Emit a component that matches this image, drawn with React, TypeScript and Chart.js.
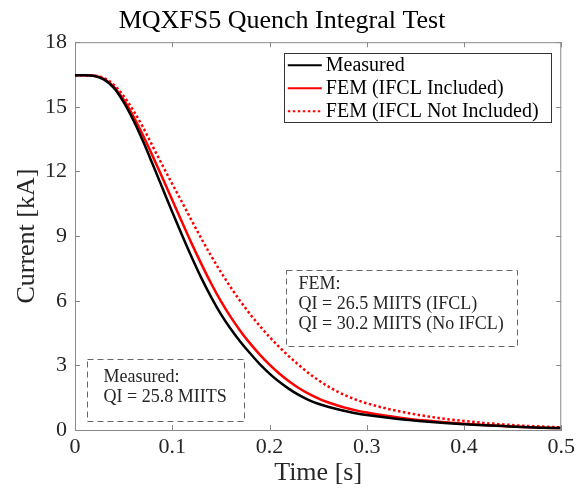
import React, { useEffect, useRef } from "react";
import { Chart, registerables } from "chart.js";

Chart.register(...registerables);

const times = [
  0, 0.01, 0.02, 0.03, 0.04, 0.05, 0.06, 0.07, 0.08, 0.09, 0.1, 0.11, 0.12, 0.13, 0.14, 0.15,
  0.16, 0.17, 0.18, 0.19, 0.2, 0.21, 0.22, 0.23, 0.24, 0.25, 0.26, 0.27, 0.28, 0.29, 0.3,
  0.32, 0.34, 0.36, 0.38, 0.4, 0.42, 0.44, 0.46, 0.48, 0.5,
];

const measured = [
  16.47, 16.47, 16.43, 16.26, 15.88, 15.22, 14.38, 13.4, 12.32, 11.22, 10.12, 9.05, 8.02, 7.05, 6.17, 5.38,
  4.7, 4.1, 3.56, 3.06, 2.62, 2.24, 1.91, 1.63, 1.4, 1.22, 1.08, 0.96, 0.86, 0.77, 0.7,
  0.58, 0.48, 0.4, 0.33, 0.27, 0.22, 0.18, 0.14, 0.11, 0.09,
];

const femIfcl = [
  16.47, 16.47, 16.44, 16.29, 15.93, 15.33, 14.56, 13.67, 12.7, 11.7, 10.68, 9.65, 8.65, 7.7, 6.8, 5.98,
  5.25, 4.6, 4.02, 3.5, 3.03, 2.62, 2.26, 1.95, 1.69, 1.47, 1.29, 1.14, 1.01, 0.9, 0.81,
  0.66, 0.54, 0.44, 0.36, 0.29, 0.23, 0.18, 0.14, 0.11, 0.09,
];

const femNoIfcl = [
  16.47, 16.47, 16.45, 16.33, 16.02, 15.5, 14.83, 14.05, 13.16, 12.28, 11.42, 10.58, 9.72, 8.88, 8.08, 7.33,
  6.63, 5.98, 5.38, 4.83, 4.32, 3.85, 3.42, 3.02, 2.65, 2.32, 2.03, 1.78, 1.57, 1.39, 1.24,
  1.0, 0.81, 0.65, 0.52, 0.42, 0.33, 0.26, 0.2, 0.16, 0.12,
];

const seriesLabels = ["Measured", "FEM (IFCL Included)", "FEM (IFCL Not Included)"];
const titleText = "MQXFS5 Quench Integral Test";
const xTitle = "Time [s]";
const yTitle = "Current [kA]";
const femNote = ["FEM:", "QI = 26.5 MIITS (IFCL)", "QI = 30.2 MIITS (No IFCL)"];
const measNote = ["Measured:", "QI = 25.8 MIITS"];

const FONT = "'Liberation Serif', 'Times New Roman', serif";
const AXIS_GRAY = "#8a8a8a";

const framePlugin = {
  id: "frameTicks",
  afterDatasetsDraw(chart: any) {
    const { ctx, chartArea } = chart;
    const xs = chart.scales.x;
    const ys = chart.scales.y;
    const { left, right, top, bottom } = chartArea;
    ctx.save();
    ctx.strokeStyle = AXIS_GRAY;
    ctx.lineWidth = 1;
    ctx.beginPath();
    ctx.moveTo(left, top + 0.5);
    ctx.lineTo(right, top + 0.5);
    ctx.moveTo(right - 0.5, top);
    ctx.lineTo(right - 0.5, bottom);
    ctx.stroke();
    const tl = 5;
    ctx.beginPath();
    xs.ticks.forEach((t: any) => {
      const px = Math.round(xs.getPixelForValue(t.value)) + 0.5;
      ctx.moveTo(px, bottom);
      ctx.lineTo(px, bottom - tl);
      ctx.moveTo(px, top);
      ctx.lineTo(px, top + tl);
    });
    ys.ticks.forEach((t: any) => {
      const py = Math.round(ys.getPixelForValue(t.value)) + 0.5;
      ctx.moveTo(left, py);
      ctx.lineTo(left + tl, py);
      ctx.moveTo(right, py);
      ctx.lineTo(right - tl, py);
    });
    ctx.stroke();

    // legend box (data coords)
    const lx0 = xs.getPixelForValue(0.2147);
    const lx1 = xs.getPixelForValue(0.4888);
    const ly0 = ys.getPixelForValue(17.49);
    const ly1 = ys.getPixelForValue(14.29);
    ctx.fillStyle = "#ffffff";
    ctx.fillRect(lx0, ly0, lx1 - lx0, ly1 - ly0);
    ctx.strokeStyle = "#333333";
    ctx.lineWidth = 1;
    ctx.strokeRect(Math.round(lx0) + 0.5, Math.round(ly0) + 0.5, Math.round(lx1 - lx0), Math.round(ly1 - ly0));
    const rowH = 23;
    chart.data.datasets.forEach((ds: any, i: number) => {
      const cy = ly0 + 12 + i * rowH;
      ctx.beginPath();
      ctx.strokeStyle = ds.borderColor;
      ctx.lineWidth = 2;
      ctx.setLineDash(ds.borderDash || []);
      ctx.moveTo(lx0 + 4, cy);
      ctx.lineTo(lx0 + 38, cy);
      ctx.stroke();
      ctx.setLineDash([]);
      ctx.fillStyle = "#000000";
      ctx.font = `20px ${FONT}`;
      ctx.textBaseline = "middle";
      ctx.textAlign = "left";
      ctx.fillText(ds.label, lx0 + 42, cy + 1);
    });

    const drawNote = (x0: number, x1: number, y0: number, y1: number, lines: string[], padX: number, firstY: number) => {
      const px0 = Math.round(xs.getPixelForValue(x0)) + 0.5;
      const px1 = Math.round(xs.getPixelForValue(x1)) + 0.5;
      const py0 = Math.round(ys.getPixelForValue(y0)) + 0.5;
      const py1 = Math.round(ys.getPixelForValue(y1)) + 0.5;
      ctx.strokeStyle = "#666666";
      ctx.lineWidth = 1;
      ctx.setLineDash([6, 4]);
      ctx.strokeRect(px0, py0, px1 - px0, py1 - py0);
      ctx.setLineDash([]);
      ctx.fillStyle = "#262626";
      ctx.font = `18px ${FONT}`;
      ctx.textBaseline = "middle";
      ctx.textAlign = "left";
      lines.forEach((s, i) => {
        ctx.fillText(s, px0 + padX, py0 + firstY + i * 20);
      });
    };
    drawNote(0.2168, 0.454, 7.42, 3.9, femNote, 12, 14);
    drawNote(0.0123, 0.1738, 3.29, 0.42, measNote, 16, 18);
    ctx.restore();
  },
};

export default function App() {
  const ref = useRef<HTMLCanvasElement | null>(null);
  useEffect(() => {
    if (!ref.current) return;
    const mk = (arr: number[]) => times.map((t, i) => ({ x: t, y: arr[i] }));
    const chart = new Chart(ref.current, {
      type: "line",
      data: {
        datasets: [
          {
            label: seriesLabels[0],
            data: mk(measured),
            borderColor: "#000000",
            borderWidth: 2.5,
            pointRadius: 0,
            cubicInterpolationMode: "monotone",
            fill: false,
          },
          {
            label: seriesLabels[1],
            data: mk(femIfcl),
            borderColor: "#ff0000",
            borderWidth: 2.5,
            pointRadius: 0,
            cubicInterpolationMode: "monotone",
            fill: false,
          },
          {
            label: seriesLabels[2],
            data: mk(femNoIfcl),
            borderColor: "#ff0000",
            borderWidth: 2.5,
            borderDash: [2.5, 2.5],
            pointRadius: 0,
            cubicInterpolationMode: "monotone",
            fill: false,
          },
        ],
      },
      options: {
        animation: false,
        responsive: true,
        maintainAspectRatio: false,
        layout: { padding: { left: 0, right: 15, top: 0, bottom: 0 } },
        plugins: {
          legend: { display: false },
          tooltip: { enabled: false },
          title: {
            display: true,
            text: titleText,
            color: "#000000",
            font: { family: FONT, size: 26, weight: "normal" },
            padding: { top: 6, bottom: 5 },
          },
        },
        scales: {
          x: {
            type: "linear",
            min: 0,
            max: 0.5,
            grid: { display: false, drawTicks: false },
            border: { display: true, color: AXIS_GRAY, width: 1 },
            ticks: {
              stepSize: 0.1,
              color: "#262626",
              font: { family: FONT, size: 22 },
              padding: 4,
              maxRotation: 0,
              callback: (v: any) => String(Math.round(Number(v) * 10) / 10),
            },
            title: {
              display: true,
              text: xTitle,
              color: "#262626",
              font: { family: FONT, size: 26 },
              padding: { top: 0, bottom: 6 },
            },
            afterFit: (s: any) => {
              s.height = 65;
            },
          },
          y: {
            type: "linear",
            min: 0,
            max: 18,
            grid: { display: false, drawTicks: false },
            border: { display: true, color: AXIS_GRAY, width: 1 },
            ticks: {
              stepSize: 3,
              color: "#262626",
              font: { family: FONT, size: 22 },
              padding: 8,
            },
            title: {
              display: true,
              text: yTitle,
              color: "#262626",
              font: { family: FONT, size: 26 },
              padding: { top: 12, bottom: 0 },
            },
            afterFit: (s: any) => {
              s.width = 75;
            },
          },
        },
      } as any,
      plugins: [framePlugin],
    });
    return () => chart.destroy();
  }, []);
  return (
    <div style={{ position: "fixed", left: 0, top: 0, width: 579, height: 495, background: "#fff" }}>
      <canvas ref={ref} />
    </div>
  );
}
